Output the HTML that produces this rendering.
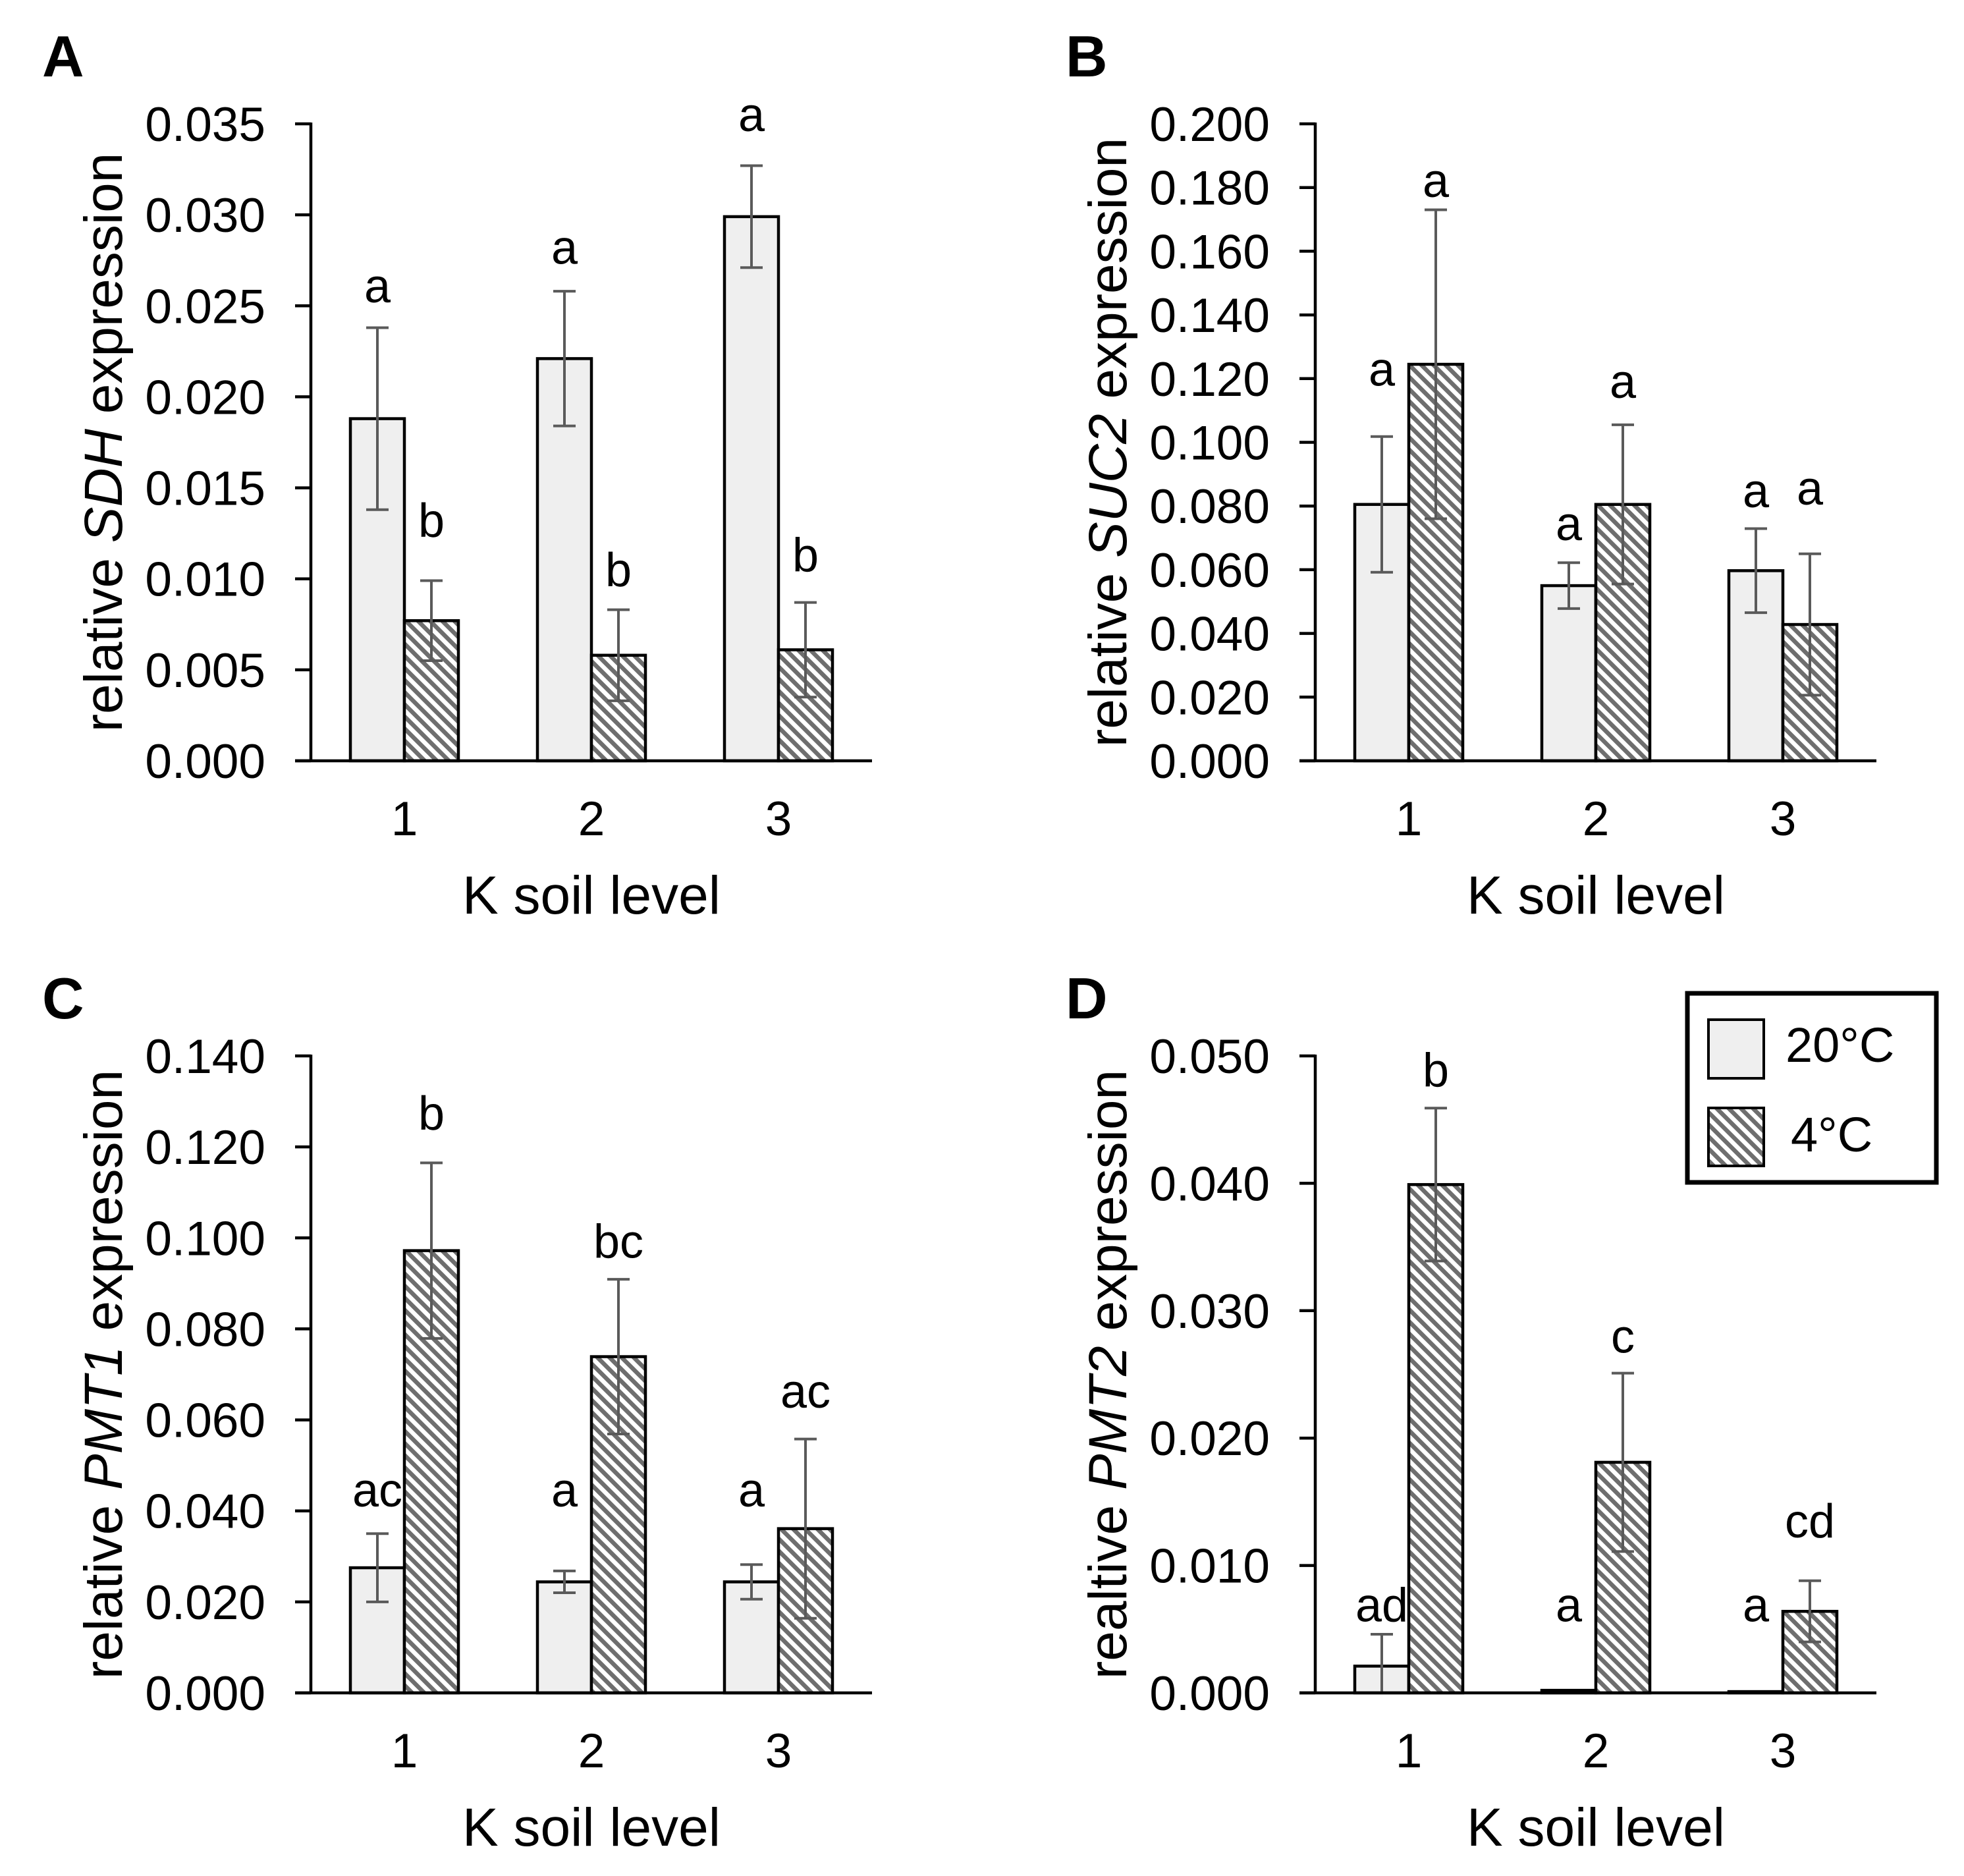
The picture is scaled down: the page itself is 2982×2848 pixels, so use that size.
<!DOCTYPE html>
<html><head><meta charset="utf-8"><style>
html,body{margin:0;padding:0;background:#fff}
svg{display:block}
text{font-family:"Liberation Sans",Arial,sans-serif;fill:#000}
</style></head><body>
<svg id="fig" width="2982" height="2848" viewBox="0 0 2982 2848" xmlns="http://www.w3.org/2000/svg">
<defs>
<pattern id="hatch" patternUnits="userSpaceOnUse" width="13" height="13" patternTransform="rotate(-45)">
<rect width="13" height="13" fill="#ffffff"/><rect x="0" y="0" width="6.5" height="13" fill="#6e6e6e"/>
</pattern>
</defs>
<g id="root"></g>
</svg>
<script>
const categories = ["1","2","3"];
// Panel A
const aWarm = [0.0188, 0.0221, 0.0299];
const aWarmErr = [0.0050, 0.0037, 0.0028];
const aCold = [0.0077, 0.0058, 0.0061];
const aColdErr = [0.0022, 0.0025, 0.0026];
const aWarmLetters = ["a","a","a"];
const aColdLetters = ["b","b","b"];
const aWarmLetterY = [0.0252, 0.0273, 0.0346];
const aColdLetterY = [0.0123, 0.0096, 0.0104];
const aTicks = [0,0.005,0.010,0.015,0.020,0.025,0.030,0.035];
// Panel B
const bWarm = [0.0805, 0.0550, 0.0597];
const bWarmErr = [0.0213, 0.0072, 0.0132];
const bCold = [0.1245, 0.0805, 0.0428];
const bColdErr = [0.0485, 0.0250, 0.0222];
const bWarmLetters = ["a","a","a"];
const bColdLetters = ["a","a","a"];
const bWarmLetterY = [0.1178, 0.0693, 0.0796];
const bColdLetterY = [0.1770, 0.1140, 0.0805];
const bTicks = [0,0.02,0.04,0.06,0.08,0.10,0.12,0.14,0.16,0.18,0.20];
// Panel C
const cWarm = [0.0275, 0.0244, 0.0244];
const cWarmErr = [0.0075, 0.0024, 0.0038];
const cCold = [0.0972, 0.0739, 0.0361];
const cColdErr = [0.0193, 0.0170, 0.0197];
const cWarmLetters = ["ac","a","a"];
const cColdLetters = ["b","bc","ac"];
const cWarmLetterY = [0.0410, 0.0410, 0.0410];
const cColdLetterY = [0.1238, 0.0956, 0.0627];
const cTicks = [0,0.02,0.04,0.06,0.08,0.10,0.12,0.14];
// Panel D
const dWarm = [0.0021, 0.0002, 0.0001];
const dWarmErr = [0.0025, 0, 0];
const dCold = [0.0399, 0.0181, 0.0064];
const dColdErr = [0.0060, 0.0070, 0.0024];
const dWarmLetters = ["ad","a","a"];
const dColdLetters = ["b","c","cd"];
const dWarmLetterY = [0.0056, 0.0056, 0.0056];
const dColdLetterY = [0.0476, 0.0267, 0.0122];
const dTicks = [0,0.01,0.02,0.03,0.04,0.05];

const NS="http://www.w3.org/2000/svg";
const root=document.getElementById('root');
function mk(tag,attrs,parent){const e=document.createElementNS(NS,tag);for(const k in attrs)e.setAttribute(k,attrs[k]);(parent||root).appendChild(e);return e;}

function panel(o){
  const g=mk('g',{});
  
  
  const x0=o.x0,x1=o.x0+852,yT=o.yZero-967,yZ=o.yZero;
  const max=o.ticks[o.ticks.length-1];
  const Y=v=>yZ-(v/max)*(yZ-yT);
  const step=(x1-x0)/categories.length;
  const C=i=>x0+(i+0.5)*step;
  const bw=82;
  const L=mk('text',{x:o.lx,y:o.ly,'font-size':88,'font-weight':'bold'},g);L.textContent=o.id;
  
  
  [['warm',o.warm,o.warmErr,o.warmL,o.warmLY,-bw],['cold',o.cold,o.coldErr,o.coldL,o.coldLY,0]].forEach(s=>{
    const [nm,vals,errs,lets,ly,off]=s;
    vals.forEach((v,i)=>{
      const bx=C(i)+off;
      const r=mk('rect',{x:bx,y:Y(v),width:bw,height:Math.max(0,yZ-Y(v)),fill:nm==='warm'?'#efefef':'url(#hatch)',stroke:'#000','stroke-width':4.5},g);
      
      
      const cx=bx+bw/2;
      if(errs[i]>0){
        const hi=Y(v+errs[i]),lo=Math.min(yZ,Y(v-errs[i]));
        const e=mk('g',{stroke:'#5a5a5a','stroke-width':4},g);
        
        
        mk('line',{x1:cx,x2:cx,y1:hi,y2:lo},e);
        mk('line',{x1:cx-17,x2:cx+17,y1:hi,y2:hi},e);
        if(v-errs[i]>0) mk('line',{x1:cx-17,x2:cx+17,y1:lo,y2:lo},e);
      }
      const t=mk('text',{x:cx,y:Y(ly[i]),'font-size':72,'text-anchor':'middle'},g);t.textContent=lets[i];
      
      
    });
  });
  const ax=mk('g',{stroke:'#000','stroke-width':4.5},g);
  
  
  mk('line',{x1:x0,x2:x0,y1:yT-2,y2:yZ},ax);
  mk('line',{x1:x0-24,x2:x1,y1:yZ,y2:yZ},ax);
  o.ticks.forEach(t=>{
    mk('line',{x1:x0-24,x2:x0,y1:Y(t),y2:Y(t)},ax);
    const tl=mk('text',{x:x0-69,y:Y(t)+26,'font-size':73,'text-anchor':'end'},g);tl.textContent=t.toFixed(3);
    
    
  });
  categories.forEach((c,i)=>{
    const tl=mk('text',{x:C(i),y:yZ+113,'font-size':73,'text-anchor':'middle'},g);tl.textContent=c;
    
    
  });
  const xt=mk('text',{x:(x0+x1)/2,y:yZ+232,'font-size':82,'text-anchor':'middle'},g);xt.textContent='K soil level';
  
  
  const cy=(yT+yZ)/2, tx=x0-315+28;
  const yt=mk('text',{x:tx,y:cy,'font-size':82,'text-anchor':'middle',transform:`rotate(-90 ${tx} ${cy})`},g);
  
  
  const t1=mk('tspan',{},yt);t1.textContent=o.pre+' ';
  const t2=mk('tspan',{'font-style':'italic'},yt);t2.textContent=o.gene;
  const t3=mk('tspan',{},yt);t3.textContent=' expression';
}
panel({id:'A',x0:472,yZero:1155,lx:64,ly:116,ticks:aTicks,warm:aWarm,warmErr:aWarmErr,cold:aCold,coldErr:aColdErr,warmL:aWarmLetters,coldL:aColdLetters,warmLY:aWarmLetterY,coldLY:aColdLetterY,pre:'relative',gene:'SDH'});
panel({id:'B',x0:1997,yZero:1155,lx:1618,ly:116,ticks:bTicks,warm:bWarm,warmErr:bWarmErr,cold:bCold,coldErr:bColdErr,warmL:bWarmLetters,coldL:bColdLetters,warmLY:bWarmLetterY,coldLY:bColdLetterY,pre:'relative',gene:'SUC2'});
panel({id:'C',x0:472,yZero:2570,lx:64,ly:1546,ticks:cTicks,warm:cWarm,warmErr:cWarmErr,cold:cCold,coldErr:cColdErr,warmL:cWarmLetters,coldL:cColdLetters,warmLY:cWarmLetterY,coldLY:cColdLetterY,pre:'relative',gene:'PMT1'});
panel({id:'D',x0:1997,yZero:2570,lx:1618,ly:1546,ticks:dTicks,warm:dWarm,warmErr:dWarmErr,cold:dCold,coldErr:dColdErr,warmL:dWarmLetters,coldL:dColdLetters,warmLY:dWarmLetterY,coldLY:dColdLetterY,pre:'realtive',gene:'PMT2'});

const lg=mk('g',{});


mk('rect',{x:2562,y:1508,width:378,height:287,fill:'#fff',stroke:'#000','stroke-width':7},lg);
const s1=mk('rect',{x:2594,y:1548,width:84,height:89,fill:'#efefef',stroke:'#000','stroke-width':4},lg);


const s2=mk('rect',{x:2594,y:1682,width:84,height:88,fill:'url(#hatch)',stroke:'#000','stroke-width':4},lg);


const l1=mk('text',{x:2711,y:1612,'font-size':74},lg);l1.textContent='20°C';


const l2=mk('text',{x:2719,y:1748,'font-size':74},lg);l2.textContent='4°C';


</script>
</body></html>
